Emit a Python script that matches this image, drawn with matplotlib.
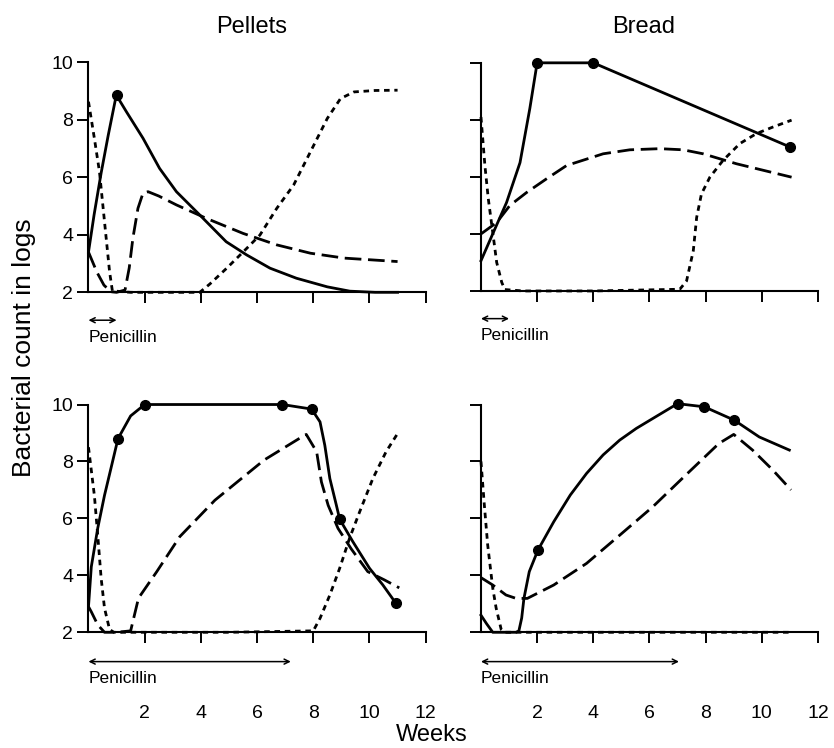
import matplotlib
matplotlib.use('Agg')
import matplotlib.pyplot as plt

plt.rcParams['font.family'] = ['Liberation Sans', 'DejaVu Sans']

# weeks / log bacterial count
# --- Pellets, upper panel
pa_solid_x = [0, 0.2, 0.45, 0.7, 0.99, 1.35, 1.94, 2.53, 3.13, 3.96, 4.9, 5.63, 6.46, 7.4, 8.5, 9.3, 10.2, 11.0]
pa_solid_y = [3.4, 4.7, 6.15, 7.45, 8.86, 8.28, 7.36, 6.31, 5.5, 4.69, 3.76, 3.3, 2.84, 2.49, 2.19, 2.04, 2.0, 2.0]
pa_mark_x = [1.0]
pa_mark_y = [8.86]
pa_dash_x = [0, 0.3, 0.55, 0.8, 1.0, 1.3, 1.45, 1.58, 1.76, 1.94, 2.12, 2.5, 3.13, 4.2, 5.5, 6.7, 7.9, 9.1, 11.0]
pa_dash_y = [3.4, 2.7, 2.25, 2.02, 2.0, 2.08, 2.85, 3.88, 4.92, 5.45, 5.5, 5.35, 5.04, 4.57, 4.05, 3.65, 3.36, 3.19, 3.07]
pa_dot_x = [0, 0.21, 0.39, 0.51, 0.63, 0.75, 0.85, 1.5, 2.5, 3.96, 4.32, 4.91, 5.5, 6.1, 6.7, 7.3, 7.9, 8.5, 8.97, 9.45, 10.2, 11.0]
pa_dot_y = [8.63, 7.35, 6.2, 5.04, 3.88, 2.72, 2.05, 2.0, 2.0, 2.0, 2.29, 2.83, 3.4, 3.99, 4.92, 5.73, 6.89, 8.05, 8.74, 8.97, 9.02, 9.03]

# --- Bread, upper panel
ba_solid_x = [0, 0.44, 0.91, 1.39, 1.74, 2.0, 4.0, 11.0]
ba_solid_y = [3.06, 4.05, 5.1, 6.5, 8.4, 10.0, 10.0, 7.05]
ba_mark_x = [2.0, 4.0, 11.0]
ba_mark_y = [10.0, 10.0, 7.05]
ba_dash_x = [0, 0.56, 1.03, 1.62, 2.33, 3.05, 4.35, 5.3, 6.37, 7.2, 7.91, 9.1, 11.06]
ba_dash_y = [4.0, 4.4, 5.0, 5.45, 5.93, 6.4, 6.81, 6.95, 6.99, 6.95, 6.81, 6.46, 5.99]
ba_dot_x = [0, 0.14, 0.26, 0.44, 0.56, 0.74, 0.85, 1.5, 4.0, 7.08, 7.32, 7.56, 7.68, 7.85, 8.15, 8.62, 9.22, 9.81, 10.4, 11.06]
ba_dot_y = [8.1, 6.4, 5.24, 3.9, 3.0, 2.3, 2.05, 2.0, 2.0, 2.06, 2.35, 3.41, 4.58, 5.4, 5.99, 6.58, 7.17, 7.52, 7.75, 7.99]

# --- Pellets, lower panel
pb_solid_x = [0, 0.1, 0.33, 0.57, 0.8, 1.05, 1.5, 2.0, 3.5, 5.0, 6.9, 7.94, 8.24, 8.41, 8.59, 8.82, 8.94, 9.41, 10.0, 10.47, 10.94]
pb_solid_y = [2.9, 4.3, 5.66, 6.81, 7.76, 8.8, 9.6, 10.0, 10.0, 10.0, 10.0, 9.84, 9.39, 8.57, 7.4, 6.47, 5.97, 5.18, 4.25, 3.67, 3.02]
pb_mark_x = [1.05, 2.0, 6.9, 7.94, 8.94, 10.94]
pb_mark_y = [8.8, 10.0, 10.0, 9.84, 5.97, 3.02]
pb_dash_x = [0, 0.1, 0.33, 0.57, 1.0, 1.5, 1.78, 2.43, 3.25, 4.5, 6.25, 7.49, 7.75, 8.12, 8.29, 8.53, 8.88, 9.35, 9.94, 10.53, 11.06]
pb_dash_y = [2.9, 2.72, 2.26, 2.0, 2.0, 2.05, 3.2, 4.13, 5.36, 6.64, 8.05, 8.8, 8.95, 8.34, 7.28, 6.46, 5.65, 4.93, 4.13, 3.84, 3.56]
pb_dot_x = [0, 0.21, 0.33, 0.45, 0.57, 0.75, 0.9, 2.0, 5.0, 8.0, 8.24, 8.59, 8.94, 9.29, 9.65, 10.12, 10.59, 11.0]
pb_dot_y = [8.5, 6.8, 5.4, 3.9, 2.85, 2.1, 2.0, 2.0, 2.0, 2.05, 2.49, 3.31, 4.25, 5.3, 6.23, 7.4, 8.34, 8.98]

# --- Bread, lower panel
bb_solid_x = [0, 0.2, 0.42, 0.8, 1.25, 1.35, 1.45, 1.53, 1.72, 2.03, 2.59, 3.18, 3.76, 4.35, 4.94, 5.53, 6.12, 7.0, 7.95, 9.02, 9.91, 10.98]
bb_solid_y = [2.6, 2.3, 2.0, 2.0, 2.0, 2.05, 2.5, 3.19, 4.13, 4.89, 5.88, 6.82, 7.58, 8.23, 8.75, 9.16, 9.51, 10.03, 9.92, 9.45, 8.86, 8.4]
bb_mark_x = [2.03, 7.0, 7.95, 9.02]
bb_mark_y = [4.89, 10.03, 9.92, 9.45]
bb_dash_x = [0, 0.42, 0.89, 1.25, 1.65, 2.59, 3.76, 4.94, 6.12, 7.29, 8.47, 9.0, 9.67, 10.39, 11.04]
bb_dash_y = [3.92, 3.66, 3.31, 3.19, 3.19, 3.66, 4.42, 5.41, 6.41, 7.52, 8.63, 8.95, 8.4, 7.7, 7.0]
bb_dot_x = [0, 0.12, 0.24, 0.42, 0.54, 0.72, 0.85, 2.0, 6.0, 11.0]
bb_dot_y = [8.0, 6.47, 5.06, 3.55, 2.85, 2.1, 2.0, 2.0, 2.0, 2.0]

# penicillin period (weeks) per panel
pen_end = [1.0, 1.0, 7.2, 7.05]

xticks = [2, 4, 6, 8, 10, 12]
yticks = [2, 4, 6, 8, 10]

fig = plt.figure(figsize=(8.34, 7.48), dpi=100)

# [left, bottom, width, height] in figure fraction
boxes = [[0.1061, 0.6092, 0.4043, 0.3075],
         [0.5767, 0.6110, 0.4041, 0.3050],
         [0.1061, 0.1547, 0.4043, 0.3045],
         [0.5767, 0.1547, 0.4041, 0.3045]]

panels = [
    (pa_solid_x, pa_solid_y, pa_mark_x, pa_mark_y, pa_dash_x, pa_dash_y, pa_dot_x, pa_dot_y),
    (ba_solid_x, ba_solid_y, ba_mark_x, ba_mark_y, ba_dash_x, ba_dash_y, ba_dot_x, ba_dot_y),
    (pb_solid_x, pb_solid_y, pb_mark_x, pb_mark_y, pb_dash_x, pb_dash_y, pb_dot_x, pb_dot_y),
    (bb_solid_x, bb_solid_y, bb_mark_x, bb_mark_y, bb_dash_x, bb_dash_y, bb_dot_x, bb_dot_y),
]

for i in range(4):
    ax = fig.add_axes(boxes[i])
    sx, sy, mx, my, dx, dy, ox, oy = panels[i]
    ax.plot(sx, sy, color='black', lw=2.0, clip_on=False, zorder=3)
    ax.plot(mx, my, 'o', color='black', ms=7, clip_on=False, zorder=4)
    ax.plot(dx, dy, color='black', lw=2.0, dashes=(6, 2.4), clip_on=False, zorder=3)
    ax.plot(ox, oy, color='black', lw=2.0, dashes=(2, 1.7), clip_on=False, zorder=3)

    ax.set_xlim(0, 12)
    ax.set_ylim(2, 10)
    ax.set_xticks(xticks)
    ax.set_yticks(yticks)
    for s in ['top', 'right']:
        ax.spines[s].set_visible(False)
    for s in ['left', 'bottom']:
        ax.spines[s].set_linewidth(1.5)
    ax.tick_params(direction='out', length=8, width=1.4, labelsize=14)
    ax.tick_params(axis='y', pad=3)
    if i % 2 == 1:
        ax.tick_params(labelleft=False)
    if i < 2:
        ax.tick_params(labelbottom=False)
    else:
        ax.tick_params(axis='x', pad=44)

    # penicillin arrow below the axis
    ya = 1.03 if i < 2 else 0.97
    ax.annotate('', xy=(pen_end[i], ya), xytext=(0, ya),
                arrowprops=dict(arrowstyle='<->', lw=1.1, color='black',
                                shrinkA=0, shrinkB=0, mutation_scale=9),
                annotation_clip=False)
    ax.text(0, ya - 0.6, 'Penicillin', fontsize=12.5, ha='left', va='center', clip_on=False)

fig.text(0.3018, 0.964, 'Pellets', fontsize=17, ha='center', va='center')
fig.text(0.7713, 0.964, 'Bread', fontsize=17, ha='center', va='center')
fig.text(0.029, 0.535, 'Bacterial count in logs', fontsize=19, rotation=90, ha='center', va='center')
fig.text(0.518, 0.018, 'Weeks', fontsize=17, ha='center', va='center')

plt.savefig('out.png', dpi=100)
